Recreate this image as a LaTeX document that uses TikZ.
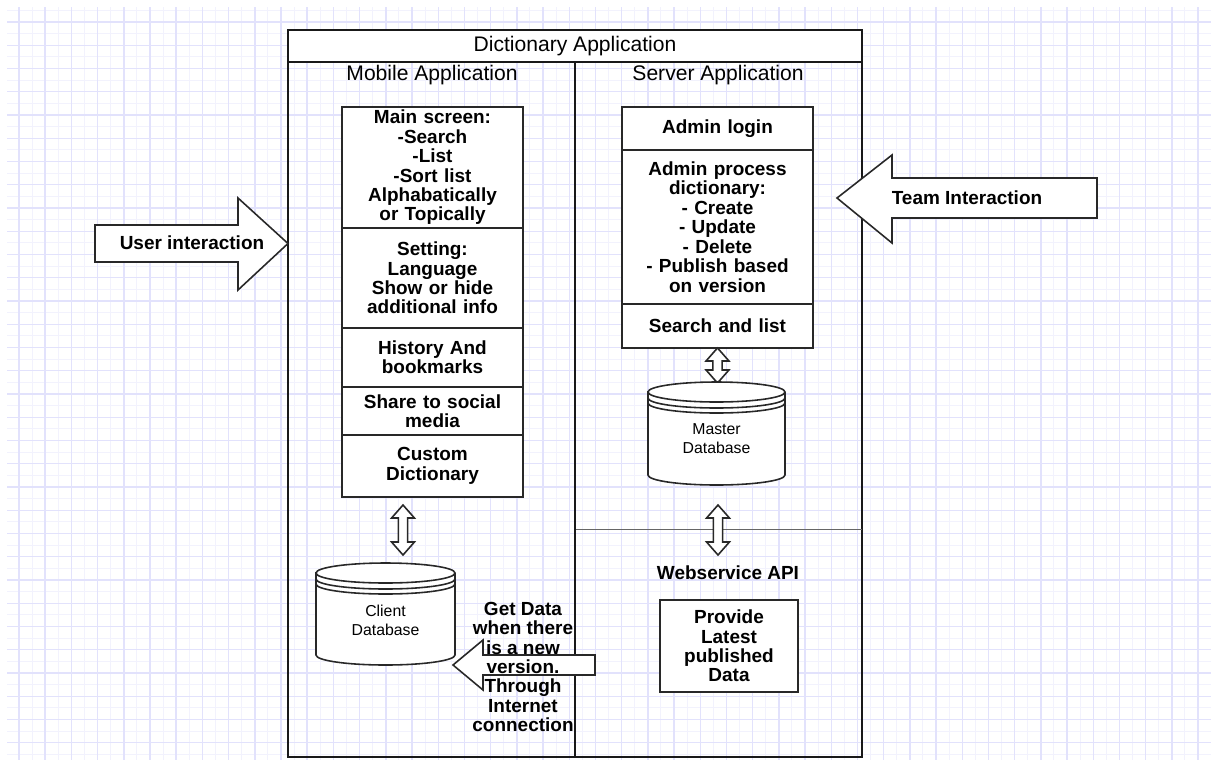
\documentclass[tikz,border=0pt]{standalone}
\usepackage{fontspec}
\setmainfont{Liberation Sans}
\usetikzlibrary{positioning, calc}

\definecolor{gridmaj}{RGB}{226,226,252}
\definecolor{gridmin}{RGB}{242,242,253}
\definecolor{lineblack}{RGB}{40,40,40}

\newcommand{\boxfont}{\fontsize{10.8}{11.05}\selectfont\bfseries}
\newcommand{\headfont}{\fontsize{12}{14}\selectfont}
\newcommand{\dbfont}{\fontsize{9}{10.8}\selectfont}

% double headed hollow arrow between two points (vertical)
\newcommand{\biarrow}[2]{%
  \draw[blockarrow] let \p1=(#1), \p2=(#2) in
    (\x1,\y1) -- (\x1+6.5pt,\y1-7.4pt) -- (\x1+2.6pt,\y1-7.4pt)
    -- (\x1+2.6pt,\y2+7.4pt) -- (\x1+6.5pt,\y2+7.4pt) -- (\x1,\y2)
    -- (\x1-6.5pt,\y2+7.4pt) -- (\x1-2.6pt,\y2+7.4pt)
    -- (\x1-2.6pt,\y1-7.4pt) -- (\x1-6.5pt,\y1-7.4pt) -- cycle;}

% database drum: centre x, top y, bottom y, half width (px)
\newcommand{\dbdrum}[4]{%
  \filldraw[dbline, fill=white] (#1-#4,#2+10) -- (#1-#4,#3-10)
    arc[start angle=180, end angle=360, x radius=#4*0.02cm, y radius=0.2cm]
    -- (#1+#4,#2+10)
    arc[start angle=0, end angle=180, x radius=#4*0.02cm, y radius=0.2cm] -- cycle;
  \draw[dbline] (#1-#4,#2+10) arc[start angle=180, end angle=360, x radius=#4*0.02cm, y radius=0.2cm];
  \draw[dbline] (#1-#4,#2+16) arc[start angle=180, end angle=360, x radius=#4*0.02cm, y radius=0.2cm];
  \draw[dbline] (#1-#4,#2+21) arc[start angle=180, end angle=360, x radius=#4*0.02cm, y radius=0.2cm];}

\tikzset{
  frame/.style={draw=black!90, line width=1.2pt},
  part/.style={draw=lineblack, line width=0.9pt, fill=white, outer sep=0pt,
    inner sep=0pt, align=center, font=\boxfont},
  lpart/.style={part, minimum width=3.62cm, text width=3.5cm},
  rpart/.style={part, minimum width=3.82cm, text width=3.7cm},
  blockarrow/.style={draw=lineblack, line width=0.9pt, fill=white, line join=miter},
  dbline/.style={draw=lineblack, line width=0.9pt},
  dbtext/.style={font=\dbfont, align=center},
  thinline/.style={draw=black!60, line width=0.5pt},
}

\begin{document}
\begin{tikzpicture}[x=0.02cm, y=-0.02cm]
  \useasboundingbox (0,0) rectangle (1211,762);
  \fill[white] (0,0) rectangle (1211,762);

  % grid paper
  \begin{scope}
    \clip (7,7) rectangle (1211,760);
    \foreach \i in {0,...,92}
      \draw[gridmin, line width=0.5pt] ({5.9+13.1*\i},7) -- ++(0,753);
    \foreach \i in {0,...,65}
      \draw[gridmin, line width=0.5pt] (7,{10.4+11.625*\i}) -- ++(1204,0);
    \foreach \i in {0,...,46}
      \draw[gridmaj, line width=0.8pt] ({19+26.2*\i},7) -- ++(0,753);
    \foreach \i in {0,...,32}
      \draw[gridmaj, line width=0.8pt] (7,{22+23.25*\i}) -- ++(1204,0);
  \end{scope}

  % frame
  \node[frame, fill=white, minimum width=11.48cm, minimum height=0.64cm,
    outer sep=0pt, font=\headfont] (title) at (575,46) {Dictionary Application};
  \coordinate (framebr) at (862,757);
  \draw[frame] (title.south west) rectangle (framebr);
  \draw[frame] (title.south) -- (title.south |- framebr);
  \draw[thinline] (576,529) -- (862,529);

  \node[font=\headfont] (mobile) at (432,75) {Mobile Application};
  \node[font=\headfont] (server) at (718,75) {Server Application};

  % mobile side
  \node[lpart, minimum height=2.42cm, anchor=north] (mainscr) at (432.5,107)
    {Main screen:\\-Search\\-List\\-Sort list\\Alphabatically\\or Topically};
  \node[lpart, minimum height=2cm, below=0pt of mainscr] (setting)
    {Setting:\\Language\\Show or hide\\additional info};
  \node[lpart, minimum height=1.18cm, below=0pt of setting] (history)
    {History And\\bookmarks};
  \node[lpart, minimum height=0.96cm, below=0pt of history] (share)
    {Share to social\\media};
  \node[lpart, minimum height=1.24cm, below=0pt of share] (custom)
    {Custom\\Dictionary};

  \coordinate (la1) at (403,505);
  \coordinate (la2) at (403,555);
  \biarrow{la1}{la2}

  \dbdrum{385.5}{563}{665}{69.5}
  \node[dbtext] (clientdb) at (385.5,620) {Client\\Database};

  % server side
  \node[rpart, minimum height=0.86cm, anchor=north] (login) at (717.5,107)
    {Admin login};
  \node[rpart, minimum height=3.08cm, below=0pt of login] (process)
    {Admin process\\dictionary:\\- Create\\- Update\\- Delete\\- Publish based\\on version};
  \node[rpart, minimum height=0.88cm, below=0pt of process] (searchlist)
    {Search and list};

  \coordinate (mdbtop) at (717.5,383);
  \biarrow{searchlist.south}{mdbtop}

  \dbdrum{716.5}{382}{485}{68.5}
  \node[dbtext] (masterdb) at (716.5,439) {Master\\Database};

  \coordinate (wa1) at (718,505);
  \coordinate (wa2) at (718,555);
  \biarrow{wa1}{wa2}

  \node[font=\boxfont] (webapi) at (728,573) {Webservice API};
  \node[part, minimum width=2.76cm, minimum height=1.84cm, text width=2.6cm]
    (provide) at (729,646) {Provide\\Latest\\published\\Data};

  % interaction arrows
  \draw[blockarrow] (95,225) -- (238,225) -- (238,198) -- (288,243.5)
    -- (238,290) -- (238,262) -- (95,262) -- cycle;
  \node[font=\boxfont] (userint) at (192,243) {User interaction};

  \draw[blockarrow] (1097,178) -- (892,178) -- (892,155) -- (837,198)
    -- (892,243) -- (892,218) -- (1097,218) -- cycle;
  \node[font=\boxfont] (teamint) at (967,198) {Team Interaction};

  \draw[blockarrow] (595,655) -- (483,655) -- (483,640) -- (453,665)
    -- (483,690) -- (483,675) -- (595,675) -- cycle;
  \node[font=\boxfont, align=center] (getdata) at (523,667)
    {Get Data\\when there\\is a new\\version.\\Through\\Internet\\connection};
\end{tikzpicture}
\end{document}
